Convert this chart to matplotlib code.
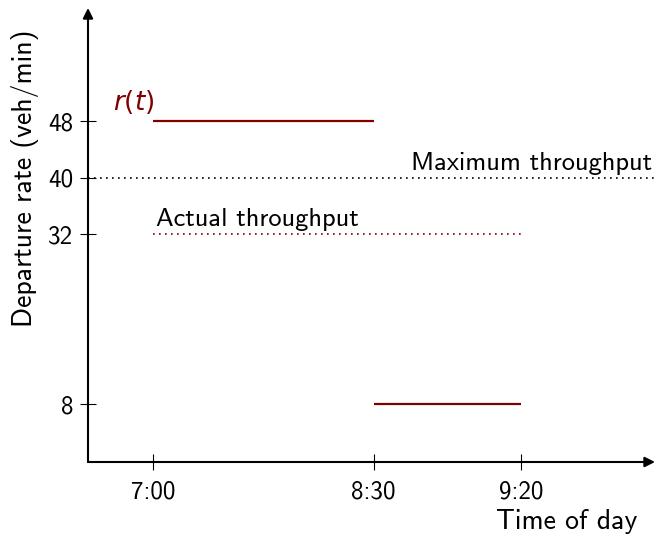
import matplotlib.pyplot as plt

plt.rcParams['font.family'] = ['cmss10', 'DejaVu Sans']
plt.rcParams['mathtext.fontset'] = 'dejavusans'

# x positions of the time ticks (schematic scale) and their labels
tick_pos = [0, 1.5, 2.5]
tick_labels = ['7:00', '8:30', '9:20']
y_ticks = [8, 32, 40, 48]

# departure rate r(t): two flat pieces
r1_x = [0, 1.5]
r1_y = [48, 48]
r2_x = [1.5, 2.5]
r2_y = [8, 8]
actual_x = [0, 2.5]
actual_y = [32, 32]
max_rate = 40

dark_red = '#800000'

fig = plt.figure(figsize=(6.57, 5.36), dpi=100)
ax = fig.add_axes([88/657, 1 - 462/536, (655 - 88)/657, (462 - 8)/536])
xmin, xmax = -0.44, 3.41
ymin, ymax = -0.2, 64
ax.set_xlim(xmin, xmax)
ax.set_ylim(ymin, ymax)

for s in ax.spines.values():
    s.set_visible(False)

# axes with arrow heads
arr = dict(arrowstyle='-|>', lw=1.5, color='black', mutation_scale=15, shrinkA=0, shrinkB=0)
ax.annotate('', xy=(xmax, ymin), xytext=(xmin, ymin), arrowprops=arr, annotation_clip=False)
ax.annotate('', xy=(xmin, ymax), xytext=(xmin, ymin), arrowprops=arr, annotation_clip=False)

ax.plot(r1_x, r1_y, color=dark_red, lw=1.6, solid_capstyle='butt')
ax.plot(r2_x, r2_y, color=dark_red, lw=1.6, solid_capstyle='butt')
ax.plot(actual_x, actual_y, color=dark_red, lw=1.2, linestyle=(0, (1, 2.6)))
ax.plot([xmin, xmax], [max_rate, max_rate], color='black', lw=1.2, linestyle=(0, (1, 2.6)))

ax.text(0.01, 48.7, '$r(t)$', color=dark_red, fontsize=19, ha='right', va='bottom')
ax.text(3.39, 40.4, 'Maximum throughput', fontsize=19, ha='right', va='bottom')
ax.text(0.02, 32.4, 'Actual throughput', fontsize=19, ha='left', va='bottom')

ax.set_xticks(tick_pos, tick_labels)
ax.set_yticks(y_ticks, [str(v) for v in y_ticks])
ax.tick_params(direction='inout', length=11, width=0.8, labelsize=18)
ax.tick_params(axis='x', pad=8)
ax.tick_params(axis='y', pad=5)

fig.text(25/657, 1 - 178/536, 'Departure rate (veh/min)', rotation=90,
         fontsize=20, ha='center', va='center')
fig.text(637/657, 1 - 521/536, 'Time of day', fontsize=20, ha='right', va='center')

fig.savefig('out.png', dpi=100)
